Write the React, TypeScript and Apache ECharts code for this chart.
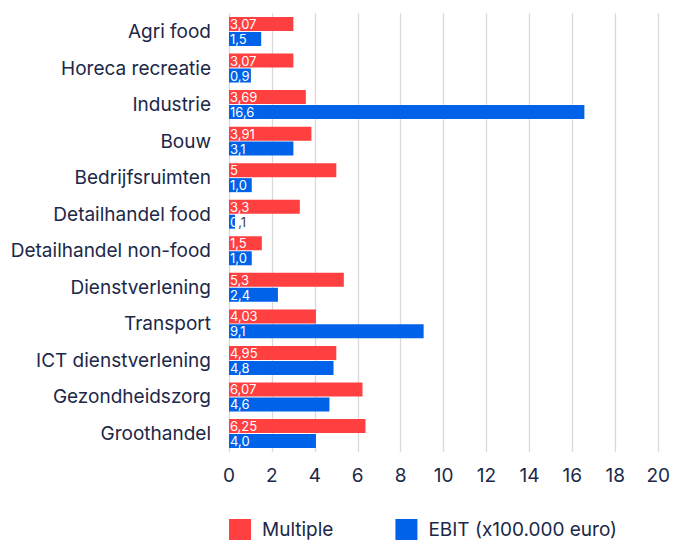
import React, { useEffect, useRef } from "react";
import * as echarts from "echarts";

const categories = [
  "Agri food",
  "Horeca recreatie",
  "Industrie",
  "Bouw",
  "Bedrijfsruimten",
  "Detailhandel food",
  "Detailhandel non-food",
  "Dienstverlening",
  "Transport",
  "ICT dienstverlening",
  "Gezondheidszorg",
  "Groothandel",
];

const multipleValues = [3.0, 3.0, 3.58, 3.84, 5.0, 3.3, 1.53, 5.35, 4.05, 5.0, 6.22, 6.36];
const multipleLabels = ["3,07", "3,07", "3,69", "3,91", "5", "3,3", "1,5", "5,3", "4,03", "4,95", "6,07", "6,25"];

const ebitValues = [1.5, 1.02, 16.56, 3.0, 1.06, 0.28, 1.06, 2.28, 9.07, 4.87, 4.68, 4.05];
const ebitLabels = ["1,5", "0,9", "16,6", "3,1", "1,0", "0,1", "1,0", "2,4", "9,1", "4,8", "4,6", "4,0"];

const xTicks = { min: 0, max: 20, interval: 2 };

const RED = "#FF3F40";
const BLUE = "#0062E8";
const TEXT = "#1B2847";
const FONT = "Inter, 'Noto Sans', sans-serif";

export default function App() {
  const ref = useRef<HTMLDivElement>(null);

  useEffect(() => {
    if (!ref.current) return;
    const chart = echarts.init(ref.current, undefined, { renderer: "svg" });
    const cats = [...categories].reverse();
    const mv = [...multipleValues].reverse();
    const ml = [...multipleLabels].reverse();
    const ev = [...ebitValues].reverse();
    const el = [...ebitLabels].reverse();

    const labelBase = {
      show: true,
      position: "insideLeft" as const,
      distance: 1,
      color: "#ffffff",
      fontSize: 13,
      fontFamily: FONT,
    };

    chart.setOption({
      animation: false,
      textStyle: { fontFamily: FONT },
      grid: { left: 229, right: 13.7, top: 13.2, height: 438.6, containLabel: false },
      legend: {
        left: 229,
        top: 519,
        padding: 0,
        itemWidth: 22,
        itemHeight: 21,
        itemGap: 62,
        icon: "rect",
        textStyle: { fontSize: 19, lineHeight: 21, color: TEXT, fontFamily: FONT, padding: [0, 0, 0, 6] },
        data: ["Multiple", "EBIT (x100.000 euro)"],
      },
      xAxis: {
        type: "value",
        min: xTicks.min,
        max: xTicks.max,
        interval: xTicks.interval,
        axisLine: { show: false },
        axisTick: { show: false },
        splitLine: { show: true, lineStyle: { color: "#D9D9D9", width: 1.3 } },
        axisLabel: { color: TEXT, fontSize: 19, fontFamily: FONT, margin: 14 },
      },
      yAxis: {
        type: "category",
        data: cats,
        axisLine: { show: false },
        axisTick: { show: false },
        axisLabel: { color: TEXT, fontSize: 19, fontFamily: FONT, margin: 18 },
      },
      series: [
        {
          name: "Multiple",
          type: "bar",
          data: mv,
          barWidth: 14,
          barGap: "7%",
          itemStyle: { color: RED },
          label: {
            ...labelBase,
            formatter: (p: any) => ml[p.dataIndex],
          },
        },
        {
          name: "EBIT (x100.000 euro)",
          type: "bar",
          data: ev,
          barWidth: 14,
          itemStyle: { color: BLUE },
          label: {
            ...labelBase,
            formatter: (p: any) => {
              const s = el[p.dataIndex];
              if (ev[p.dataIndex] < 0.5) {
                return "{w|" + s.slice(0, 1) + "}{d|" + s.slice(1) + "}";
              }
              return s;
            },
            rich: {
              w: { color: "#ffffff", fontSize: 13, fontFamily: FONT },
              d: { color: "#444444", fontSize: 13, fontFamily: FONT },
            },
          },
        },
      ],
    });
    return () => chart.dispose();
  }, []);

  return <div ref={ref} style={{ width: 673, height: 541, position: "absolute", left: 0, top: 0 }} />;
}
